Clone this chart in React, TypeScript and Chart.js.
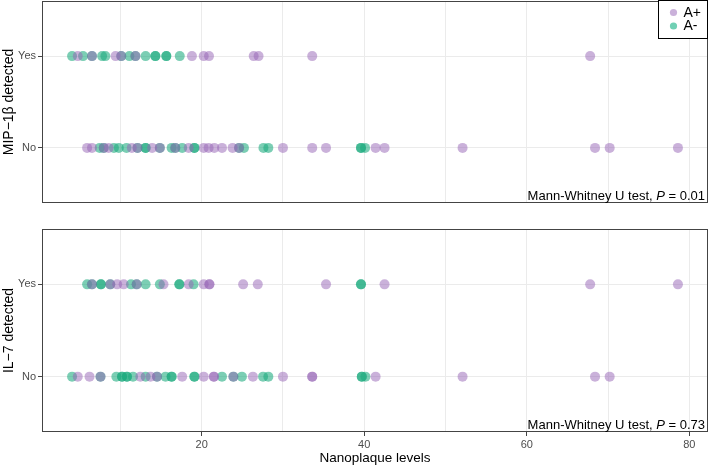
import React, { useEffect, useRef } from 'react';
import { Chart, registerables } from 'chart.js';

Chart.register(...registerables);

// ---------- data ----------
const groupLabels = ['A+', 'A-'];
const categoryLabels = ['No', 'Yes']; // y = 1 -> No, y = 2 -> Yes
const xTickLabels = [20, 40, 60, 80];
const xGridValues = [10, 20, 30, 40, 50, 60, 70, 80];

// Panel 1: MIP-1β
const mipYesAPos = [4.75, 6.5, 9.4, 10.1, 11.85, 18.8, 20.25, 20.9, 26.4, 27.0, 33.6, 67.8];
const mipYesANeg = [4.05, 5.4, 6.5, 7.75, 8.15, 10.1, 11.1, 11.85, 13.1, 14.3, 14.3, 15.65, 15.65, 17.3];
const mipNoAPos = [5.9, 6.5, 7.95, 8.55, 11.4, 12.1, 13.9, 14.85, 16.75, 18.4, 20.25, 20.85, 21.55, 22.5, 23.8, 24.6, 30.0, 33.6, 35.3, 41.4, 42.5, 52.1, 68.4, 70.2, 78.6];
const mipNoANeg = [7.45, 7.95, 9.2, 9.8, 10.75, 12.1, 13.1, 13.1, 14.85, 16.3, 16.75, 17.6, 19.1, 19.1, 24.6, 25.2, 27.6, 28.2, 39.6, 39.6, 40.1];

// Panel 2: IL-7
const il7YesAPos = [6.5, 8.75, 9.6, 10.4, 12.0, 15.3, 18.4, 20.25, 20.95, 20.95, 25.1, 26.9, 35.3, 42.5, 67.8, 78.6];
const il7YesANeg = [5.9, 6.5, 7.6, 7.6, 8.75, 11.3, 12.0, 13.1, 14.85, 17.25, 17.25, 19.0, 39.6, 39.6];
const il7NoAPos = [4.75, 6.2, 7.55, 12.45, 13.7, 14.5, 17.6, 20.25, 21.5, 21.5, 23.9, 26.3, 30.0, 33.6, 33.6, 41.4, 52.1, 68.4, 70.2];
const il7NoANeg = [4.05, 7.55, 9.5, 10.2, 10.2, 10.8, 10.8, 11.55, 13.1, 14.5, 15.55, 16.3, 16.3, 19.1, 19.1, 22.5, 23.9, 24.95, 27.55, 28.2, 39.7, 39.7, 40.15];

const panelTitles = ['MIP\u22121\u03b2 detected', 'IL\u22127 detected'];
const pValues = ['0.01', '0.73'];
const xTitle = 'Nanoplaque levels';

// ---------- styles ----------
const FONT = '"Liberation Sans", Arial, Helvetica, sans-serif';
const colorAPos = 'rgba(150, 100, 182, 0.5)';
const colorANeg = 'rgba(27, 170, 125, 0.58)';
const legendAPos = 'rgb(202, 177, 218)';
const legendANeg = 'rgb(112, 208, 180)';
const X_MIN = 0.35;
const X_MAX = 82.3;

const toPoints = (vals: number[], y: number) => vals.map((x) => ({ x, y }));

const zeroPad = (s: any) => {
  s.paddingTop = 0;
  s.paddingBottom = 0;
  s.paddingLeft = 0;
  s.paddingRight = 0;
};

const panelPlugin = {
  id: 'panelDeco',
  afterDraw(chart: any, _args: any, opts: any) {
    const { ctx, chartArea: a } = chart;
    ctx.save();
    // panel border
    ctx.strokeStyle = '#444444';
    ctx.lineWidth = 1;
    const l = Math.round(a.left) + 0.5;
    const t = Math.round(a.top) + 0.5;
    const r = Math.round(a.right) - 0.5;
    const b = Math.round(a.bottom) - 0.5;
    ctx.strokeRect(l, t, r - l, b - t);

    // annotation text
    const normal = `13px ${FONT}`;
    const italic = `italic 13px ${FONT}`;
    const parts = [
      { s: 'Mann-Whitney U test, ', f: normal },
      { s: 'P', f: italic },
      { s: ' = ' + opts.p, f: normal },
    ];
    let total = 0;
    for (const p of parts) {
      ctx.font = p.f;
      total += ctx.measureText(p.s).width;
    }
    let x = a.right - 3 - total;
    const y = a.bottom - 3;
    ctx.fillStyle = '#000';
    ctx.textBaseline = 'alphabetic';
    ctx.textAlign = 'left';
    for (const p of parts) {
      ctx.font = p.f;
      ctx.fillText(p.s, x, y);
      x += ctx.measureText(p.s).width;
    }

    // legend
    if (opts.legend) {
      const bx = Math.round(a.right) - 49.5;
      const by = 0.5;
      const bw = 49;
      const bh = 38;
      ctx.fillStyle = '#fff';
      ctx.fillRect(bx, by, bw, bh);
      ctx.strokeStyle = '#000';
      ctx.strokeRect(bx, by, bw, bh);
      const items = [
        { label: groupLabels[0], color: legendAPos, y: 12.5 },
        { label: groupLabels[1], color: legendANeg, y: 26 },
      ];
      ctx.font = `14px ${FONT}`;
      ctx.textBaseline = 'middle';
      for (const it of items) {
        ctx.fillStyle = it.color;
        ctx.beginPath();
        ctx.arc(bx + 15, it.y, 3.6, 0, Math.PI * 2);
        ctx.fill();
        ctx.fillStyle = '#000';
        ctx.fillText(it.label, bx + 25, it.y + 0.5);
      }
    }
    ctx.restore();
  },
};

function makeChart(
  canvas: HTMLCanvasElement,
  cfg: {
    yesPos: number[];
    yesNeg: number[];
    noPos: number[];
    noNeg: number[];
    yTitle: string;
    p: string;
    bottomAxis: boolean;
    legend: boolean;
    padTop: number;
    padBottom: number;
  }
) {
  const pointStyle = { pointRadius: 5, pointHoverRadius: 5, borderWidth: 0, showLine: false };
  return new Chart(canvas, {
    type: 'scatter',
    data: {
      datasets: [
        { label: groupLabels[0], data: [...toPoints(cfg.noPos, 1), ...toPoints(cfg.yesPos, 2)], backgroundColor: colorAPos, ...pointStyle },
        { label: groupLabels[1], data: [...toPoints(cfg.noNeg, 1), ...toPoints(cfg.yesNeg, 2)], backgroundColor: colorANeg, ...pointStyle },
      ],
    },
    options: {
      responsive: false,
      animation: false,
      events: [],
      layout: { autoPadding: false, padding: { left: 0, right: 1, top: cfg.padTop, bottom: cfg.padBottom } },
      plugins: {
        legend: { display: false },
        tooltip: { enabled: false },
        panelDeco: { p: cfg.p, legend: cfg.legend },
      } as any,
      scales: {
        x: {
          type: 'linear',
          min: X_MIN,
          max: X_MAX,
          afterBuildTicks: (s: any) => {
            s.ticks = xGridValues.map((v) => ({ value: v }));
          },
          afterFit: (s: any) => {
            s.height = cfg.bottomAxis ? 36 : 0;
            zeroPad(s);
          },
          border: { display: false },
          grid: {
            color: '#EBEBEB',
            lineWidth: 1,
            drawTicks: cfg.bottomAxis,
            tickLength: 4,
            tickColor: (c: any) => (xTickLabels.includes(c.tick?.value) ? '#444444' : 'rgba(0,0,0,0)'),
          },
          ticks: {
            display: cfg.bottomAxis,
            autoSkip: false,
            maxRotation: 0,
            padding: 2,
            color: '#4D4D4D',
            font: { family: FONT, size: 11 },
            callback: (v: any) => (xTickLabels.includes(v) ? String(v) : ''),
          },
          title: {
            display: cfg.bottomAxis,
            text: xTitle,
            color: '#000',
            font: { family: FONT, size: 13.5 },
            padding: { top: 0, bottom: 2 },
          },
        },
        y: {
          type: 'linear',
          min: 0.4,
          max: 2.6,
          afterBuildTicks: (s: any) => {
            s.ticks = [{ value: 1 }, { value: 2 }];
          },
          afterFit: (s: any) => {
            s.width = 42;
            zeroPad(s);
          },
          border: { display: false },
          grid: { color: '#EBEBEB', lineWidth: 1, tickLength: 4, tickColor: '#444444' },
          ticks: {
            padding: 2,
            color: '#4D4D4D',
            font: { family: FONT, size: 11 },
            callback: (v: any) => categoryLabels[v - 1] ?? '',
          },
          title: {
            display: true,
            text: cfg.yTitle,
            color: '#000',
            font: { family: FONT, size: 14 },
            padding: { top: 1, bottom: 0 },
          },
        },
      },
    },
    plugins: [panelPlugin],
  } as any);
}

export default function App() {
  const topRef = useRef<HTMLCanvasElement | null>(null);
  const botRef = useRef<HTMLCanvasElement | null>(null);

  useEffect(() => {
    const c1 = makeChart(topRef.current!, {
      yesPos: mipYesAPos,
      yesNeg: mipYesANeg,
      noPos: mipNoAPos,
      noNeg: mipNoANeg,
      yTitle: panelTitles[0],
      p: pValues[0],
      bottomAxis: false,
      legend: true,
      padTop: 1,
      padBottom: 2,
    });
    const c2 = makeChart(botRef.current!, {
      yesPos: il7YesAPos,
      yesNeg: il7YesANeg,
      noPos: il7NoAPos,
      noNeg: il7NoANeg,
      yTitle: panelTitles[1],
      p: pValues[1],
      bottomAxis: true,
      legend: false,
      padTop: 2,
      padBottom: 0,
    });
    return () => {
      c1.destroy();
      c2.destroy();
    };
  }, []);

  return (
    <div style={{ position: 'absolute', left: 0, top: 0, width: 709, height: 468, background: '#fff' }}>
      <canvas ref={topRef} width={709} height={205} style={{ position: 'absolute', left: 0, top: 0, width: 709, height: 205 }} />
      <canvas ref={botRef} width={709} height={241} style={{ position: 'absolute', left: 0, top: 227, width: 709, height: 241 }} />
    </div>
  );
}
